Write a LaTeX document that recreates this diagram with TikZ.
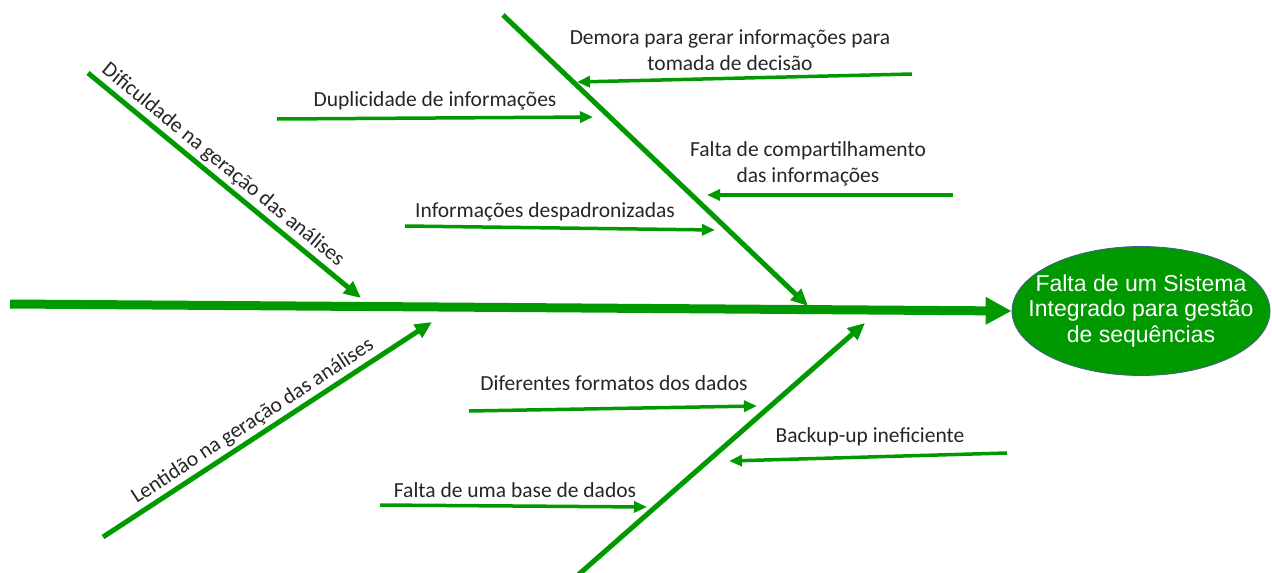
\documentclass[tikz,border=0pt]{standalone}
\usepackage{fontspec}
\setmainfont{Carlito}
\newfontfamily\arialf{Liberation Sans}
\usetikzlibrary{arrows.meta,shapes.geometric}
\definecolor{fgreen}{RGB}{0,153,0}
\definecolor{txtc}{RGB}{38,38,38}
\definecolor{edgeblue}{RGB}{70,90,140}
\begin{document}
\begin{tikzpicture}[x=1pt,y=-1pt,
  spine/.style={fgreen, line width=9pt, -{Triangle[length=26pt,width=26pt]}},
  bone/.style={fgreen, line width=5pt, -{Triangle[length=17pt,width=15pt]}},
  twig/.style={fgreen, line width=3.5pt, -{Triangle[length=13pt,width=11pt]}},
  lbl/.style={text=txtc, font=\fontsize{21.5}{26}\selectfont, inner sep=0pt, align=center},
  slbl/.style={lbl, sloped, above=2pt, inner sep=1pt}]
\useasboundingbox (0,0) rectangle (1272,573);
% effect
\node[ellipse, draw=edgeblue, line width=0.8pt, fill=fgreen, minimum width=258pt, minimum height=129pt,
  inner xsep=-40pt, inner ysep=-10pt, text=white, align=center, font=\arialf\fontsize{23}{25.5}\selectfont] (eff) at (1141,311)
  {Falta de um Sistema\\Integrado para gestão\\de sequências};
% spine
\coordinate (s0) at (10,304);
\draw[spine] (s0) -- (eff.west);
% main bones
\coordinate (a0) at (503,15);  \coordinate (a1) at (808,306);
\coordinate (b0) at (88,73);   \coordinate (b1) at (361,298);
\coordinate (c0) at (103,537); \coordinate (c1) at (432,322);
\coordinate (d0) at (578,575); \coordinate (d1) at (865,323);
\draw[bone] (a0) -- (a1);
\draw[bone] (d0) -- (d1);
\draw[bone] (b0) -- node[slbl, pos=0.46] (lb) {Dificuldade na geração das análises} (b1);
\draw[bone] (c0) -- node[slbl, pos=0.48] (lc) {Lentidão na geração das análises} (c1);
% twigs
\coordinate (t1a) at (912,74);  \coordinate (t1b) at (577,82);
\coordinate (t2a) at (277,119); \coordinate (t2b) at (593,117);
\coordinate (t3a) at (953,195); \coordinate (t3b) at (707,195);
\coordinate (t4a) at (405,226); \coordinate (t4b) at (715,230);
\coordinate (t5a) at (469,411); \coordinate (t5b) at (757,406);
\coordinate (t6a) at (1007,453); \coordinate (t6b) at (729,461);
\coordinate (t7a) at (380,505); \coordinate (t7b) at (647,507);
\foreach \i in {1,...,7} {\draw[twig] (t\i a) -- (t\i b);}
% labels
\node[lbl] (l1) at (730,50) {Demora para gerar informações para\\tomada de decisão};
\node[lbl, anchor=base] (l2) at (435,106) {Duplicidade de informações};
\node[lbl] (l3) at (808,164) {Falta de compartilhamento\\das informações};
\node[lbl, anchor=base] (l4) at (545,217) {Informações despadronizadas};
\node[lbl, anchor=base] (l5) at (614,390) {Diferentes formatos dos dados};
\node[lbl, anchor=base] (l6) at (870,442) {Backup-up ineficiente};
\node[lbl, anchor=base] (l7) at (515,497) {Falta de uma base de dados};
\end{tikzpicture}
\end{document}
